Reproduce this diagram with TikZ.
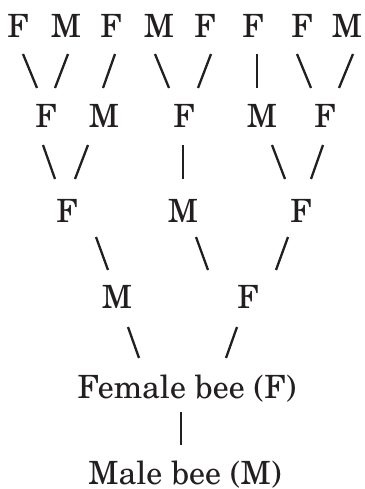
\documentclass[tikz,border=0pt]{standalone}
\usepackage{fontspec}
\setmainfont{TeX Gyre Schola}
\definecolor{ink}{HTML}{231F20}
\begin{document}
\begin{tikzpicture}[x=1pt,y=-1pt,
  lbl/.style={anchor=base,inner sep=0pt,font=\fontsize{32}{38}\selectfont,text=ink},
  conn/.style={line width=2.3pt,draw=ink}]
\useasboundingbox (0,0) rectangle (364,489);
% generation 1
\node[lbl] (a1) at (18,38) {F};
\node[lbl] (a2) at (66,38) {M};
\node[lbl] (a3) at (111,38) {F};
\node[lbl] (a4) at (159,38) {M};
\node[lbl] (a5) at (205,38) {F};
\node[lbl] (a6) at (253,38) {F};
\node[lbl] (a7) at (302,38) {F};
\node[lbl] (a8) at (347,38) {M};
% generation 2
\node[lbl] (b1) at (46,128) {F};
\node[lbl] (b2) at (104,128) {M};
\node[lbl] (b3) at (184,128) {F};
\node[lbl] (b4) at (262,128) {M};
\node[lbl] (b5) at (325,128) {F};
% generation 3
\node[lbl] (c1) at (67,222) {F};
\node[lbl] (c2) at (183,222) {M};
\node[lbl] (c3) at (301,222) {F};
% generation 4
\node[lbl] (d1) at (117,308) {M};
\node[lbl] (d2) at (248,308) {F};
% bees
\node[lbl] (fem) at (187,398) {Female bee (F)};
\node[lbl] (mal) at (185,484) {Male bee (M)};
% connector end points
\path (23,54) coordinate (p1) (37,88) coordinate (q1)
      (68,54) coordinate (p2) (55,88) coordinate (q2)
      (115,54) coordinate (p3) (103,88) coordinate (q3)
      (155,54) coordinate (p4) (169,88) coordinate (q4)
      (211,54) coordinate (p5) (198,88) coordinate (q5)
      (257,54) coordinate (p6) (257,88) coordinate (q6)
      (297,54) coordinate (p7) (311,88) coordinate (q7)
      (353,54) coordinate (p8) (339,88) coordinate (q8)
      (43,145) coordinate (r1) (55,179) coordinate (s1)
      (88,145) coordinate (r2) (75,179) coordinate (s2)
      (183,145) coordinate (r3) (183,179) coordinate (s3)
      (272,145) coordinate (r4) (285,179) coordinate (s4)
      (323,145) coordinate (r5) (311,179) coordinate (s5)
      (96,237) coordinate (t1) (108,270) coordinate (u1)
      (196,237) coordinate (t2) (208,270) coordinate (u2)
      (288,237) coordinate (t3) (276,270) coordinate (u3)
      (128,327) coordinate (v1) (139,358) coordinate (w1)
      (237,327) coordinate (v2) (226,358) coordinate (w2)
      (181,412) coordinate (x1) (181,445) coordinate (y1);
\foreach \i in {1,...,8} \draw[conn] (p\i) -- (q\i);
\foreach \i in {1,...,5} \draw[conn] (r\i) -- (s\i);
\foreach \i in {1,...,3} \draw[conn] (t\i) -- (u\i);
\foreach \i in {1,2} \draw[conn] (v\i) -- (w\i);
\draw[conn] (x1) -- (y1);
\end{tikzpicture}
\end{document}
